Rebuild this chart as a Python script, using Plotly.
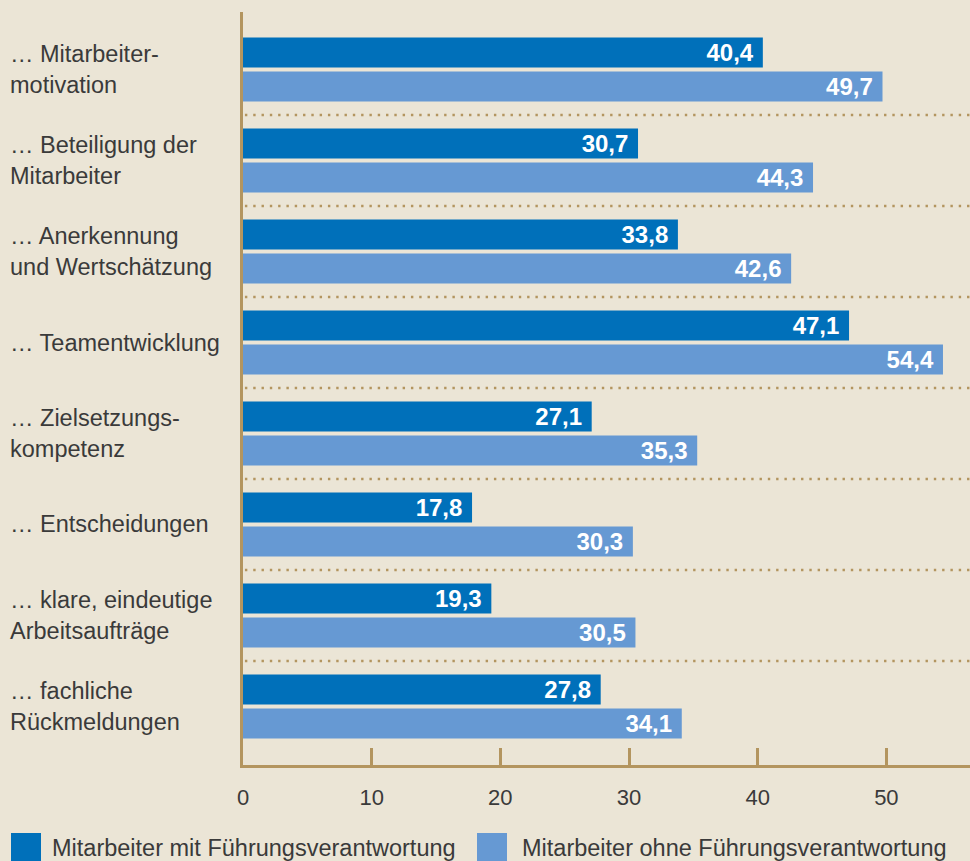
import plotly.graph_objects as go

# Survey items (top to bottom) and shares in percent
categories = [
    "… Mitarbeiter-<br>motivation",
    "… Beteiligung der<br>Mitarbeiter",
    "… Anerkennung<br>und Wertschätzung",
    "… Teamentwicklung",
    "… Zielsetzungs-<br>kompetenz",
    "… Entscheidungen",
    "… klare, eindeutige<br>Arbeitsaufträge",
    "… fachliche<br>Rückmeldungen",
]
mit_fuehrung = [40.4, 30.7, 33.8, 47.1, 27.1, 17.8, 19.3, 27.8]
ohne_fuehrung = [49.7, 44.3, 42.6, 54.4, 35.3, 30.3, 30.5, 34.1]
series_names = ["Mitarbeiter mit Führungsverantwortung",
                "Mitarbeiter ohne Führungsverantwortung"]
x_ticks = [0, 10, 20, 30, 40, 50]

BG = "#EBE5D6"
DARK = "#0070BA"
LIGHT = "#6699D3"
AXIS = "#B3955F"
TEXT = "#3A3A3A"
FONT = "Liberation Sans"

W, H = 970, 861
ML, MR, MT, MB = 243, 0, 12, 96
PW, PH = W - ML - MR, H - MT - MB

idx = list(range(len(categories)))


def fmt(v):
    return f"{v:.1f}".replace(".", ",") + "\u00a0"


fig = go.Figure()
bar_w = 0.33
for vals, color, off, name in [
    (mit_fuehrung, DARK, -0.352, series_names[0]),
    (ohne_fuehrung, LIGHT, 0.022, series_names[1]),
]:
    fig.add_trace(go.Bar(
        x=vals, y=idx, orientation="h", name=name,
        marker=dict(color=color, line=dict(width=0)),
        width=bar_w, offset=off,
        text=[fmt(v) for v in vals],
        textposition="inside", insidetextanchor="end",
        textfont=dict(family=FONT, size=24, color="white", weight="bold"),
        constraintext="none",
        hoverinfo="skip", showlegend=False,
    ))

x_max = 56.5
shapes = []
# dotted separators between item groups
for i in range(len(categories) - 1):
    shapes.append(dict(
        type="line", xref="x", yref="y", x0=0.15, x1=x_max, y0=i + 0.5, y1=i + 0.5,
        line=dict(color=AXIS, width=2.6, dash="2.4px,5.9px"), layer="below",
    ))

annotations = []
# item labels, left aligned
for i, c in enumerate(categories):
    annotations.append(dict(
        x=(8 - ML) / PW, xref="paper", y=i, yref="y",
        text=c, showarrow=False, xanchor="left", yanchor="middle", align="left",
        font=dict(family=FONT, size=23.5, color=TEXT),
    ))

# legend drawn below the axis
def px_x(p):
    return (p - ML) / PW


def px_y(p):
    return (H - MB - p) / PH


for (sq0, tx), color, name in zip([(11, 52), (477, 522)], [DARK, LIGHT], series_names):
    shapes.append(dict(
        type="rect", xref="paper", yref="paper",
        x0=px_x(sq0), x1=px_x(sq0 + 30), y0=px_y(833), y1=px_y(865),
        fillcolor=color, line=dict(width=0),
    ))
    annotations.append(dict(
        x=px_x(tx - 2), xref="paper", y=px_y(848), yref="paper",
        text=name, showarrow=False, xanchor="left", yanchor="middle",
        font=dict(family=FONT, size=23.5, color=TEXT),
    ))

fig.update_layout(
    width=W, height=H,
    margin=dict(l=ML, r=MR, t=MT, b=MB, pad=0),
    paper_bgcolor=BG, plot_bgcolor=BG,
    barmode="overlay",
    shapes=shapes, annotations=annotations,
    xaxis=dict(
        range=[0, x_max], showgrid=False, zeroline=False,
        showline=True, linecolor=AXIS, linewidth=3,
        ticks="inside", ticklen=17, tickwidth=2.5, tickcolor=AXIS,
        tickvals=x_ticks, ticktext=[str(t) for t in x_ticks],
        tickfont=dict(family=FONT, size=22, color=TEXT),
        ticklabelstandoff=11, fixedrange=True,
    ),
    yaxis=dict(
        range=[7.643, -0.632], showgrid=False, zeroline=False,
        showline=True, linecolor=AXIS, linewidth=3,
        showticklabels=False, ticks="", fixedrange=True,
    ),
)

fig.write_html("out.html")
